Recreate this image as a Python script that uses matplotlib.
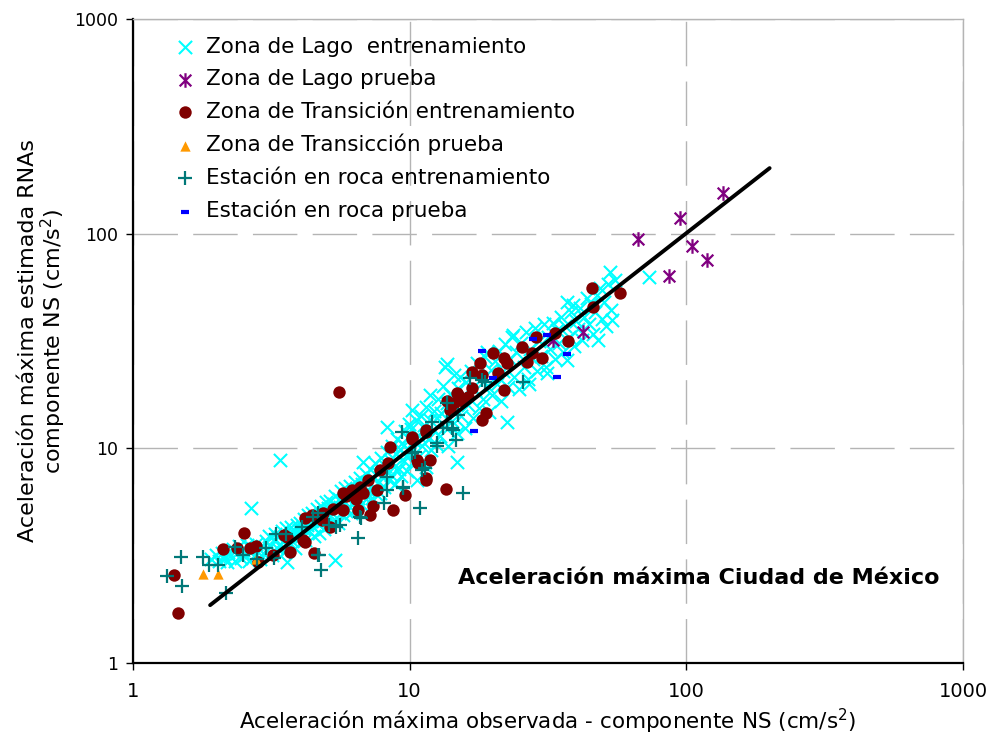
import matplotlib
matplotlib.use("Agg")
import matplotlib.pyplot as plt
from matplotlib.path import Path
from matplotlib.ticker import FixedLocator, NullLocator

plt.rcParams['font.family'] = ['DejaVu Sans']
plt.rcParams['mathtext.default'] = 'regular'

# ---------------- data ----------------
lago_ent = [
    (1.92,3.05),(2.0,3.2),(2.05,3.0),(2.1,3.25),(2.15,3.1),(2.2,3.3),(2.18,2.95),
    (2.25,3.15),(2.3,3.4),(2.33,3.0),(2.38,3.25),(2.42,3.5),(2.46,3.1),(2.5,3.35),(2.55,3.2),
    (2.58,3.55),(2.62,3.0),(2.66,3.3),(2.7,3.45),(2.74,3.15),(2.78,3.6),(2.83,3.3),(2.87,3.05),
    (2.92,3.5),(2.96,3.25),(2.67,5.27),(3.4,8.8),(3.6,2.95),(5.37,3.02),
    (3.02,3.7),(3.06,3.35),(3.1,3.9),(3.14,3.5),(3.18,3.2),(3.22,3.75),(3.27,4.0),(3.31,3.45),
    (3.35,3.85),(3.4,3.6),(3.45,4.1),(3.5,3.3),(3.55,3.8),(3.58,4.25),(3.63,3.55),(3.68,3.95),
    (3.72,4.3),(3.77,3.7),(3.82,4.05),(3.86,3.45),(3.9,4.4),(3.95,3.85),(3.99,4.15),
    (4.03,4.5),(4.07,3.9),(4.12,4.25),(4.16,4.7),(4.2,3.75),(4.25,4.4),(4.3,4.9),(4.34,4.1),
    (4.38,4.6),(4.43,5.0),(4.48,4.3),(4.52,3.9),(4.57,4.75),(4.61,5.2),(4.66,4.45),(4.7,4.05),
    (4.75,4.9),(4.8,5.4),(4.85,4.6),(4.9,4.2),(4.95,5.1),(4.98,5.6),
    (5.03,4.8),(5.08,5.3),(5.12,4.4),(5.17,5.7),(5.22,5.0),(5.27,4.6),(5.32,5.5),(5.38,6.0),
    (5.44,5.2),(5.5,4.5),(5.55,5.8),(5.6,5.35),(5.66,6.3),(5.72,4.9),(5.78,5.6),(5.84,6.5),
    (5.9,5.1),(5.95,5.9),
    (6.02,5.4),(6.08,6.7),(6.14,5.0),(6.2,6.1),(6.27,5.6),(6.33,7.0),(6.4,5.3),(6.46,6.4),
    (6.52,5.9),(6.6,7.3),(6.66,5.5),(6.73,6.8),(6.8,8.6),(6.86,6.2),(6.93,7.6),(6.98,5.8),
    (7.05,6.9),(7.12,6.3),(7.2,8.0),(7.28,5.9),(7.35,7.3),(7.42,6.6),(7.5,8.5),(7.58,6.1),
    (7.66,7.7),(7.74,7.0),(7.8,6.2),(7.88,9.0),(7.96,7.4),(8.05,6.6),(8.13,8.3),(8.22,7.8),
    (8.3,12.6),(8.3,9.6),(8.4,7.1),(8.48,8.8),
    (8.58,7.5),(8.66,10.2),(8.75,8.2),(8.84,6.8),(8.93,9.4),(9.02,11.0),(9.12,8.0),(9.2,9.9),
    (9.3,7.4),(9.4,10.6),(9.5,8.7),(9.6,12.0),(9.7,9.2),(9.8,7.8),(9.9,11.2),(9.97,13.0),
    (10.05,9.6),(10.15,12.3),(10.2,15.1),(10.3,8.6),(10.4,10.8),(10.5,13.5),(10.6,7.1),
    (10.7,11.5),(10.85,9.2),(11.0,14.2),(11.1,10.2),(11.25,12.8),(11.4,8.6),(11.5,15.5),
    (11.5,8.2),(11.65,11.0),(11.8,17.7),(11.8,13.6),(11.95,9.8),
    (12.1,12.2),(12.25,15.0),(12.4,10.5),(12.55,13.8),(12.7,17.0),(12.85,11.4),(13.0,14.6),
    (13.2,19.5),(13.4,23.9),(13.6,24.6),(13.4,12.6),(13.6,16.2),(13.8,10.2),(14.0,18.0),
    (14.2,13.4),(14.5,21.9),(14.5,15.6),(14.8,8.6),(14.8,11.8),(15.0,19.0),
    (15.2,21.6),(15.3,14.2),(15.5,17.6),(15.8,12.4),(16.0,20.4),(16.3,16.0),(16.6,23.0),
    (16.9,13.8),(17.2,18.6),(17.5,25.0),(17.8,15.4),(18.1,21.0),(18.4,17.0),(18.7,26.5),
    (19.0,28.0),(19.0,19.6),(19.3,14.8),(19.6,23.2),(19.9,17.8),
    (20.3,25.5),(20.6,20.0),(21.0,28.5),(21.4,16.6),(21.8,23.0),(22.2,30.5),(22.5,13.2),
    (22.6,19.4),(23.0,26.0),(23.4,33.0),(23.6,33.8),(23.8,21.6),(24.3,28.0),(24.8,18.8),
    (25.3,31.0),(25.8,24.0),(26.3,35.0),(26.8,21.0),(27.0,20.0),(27.3,29.0),(27.8,26.0),
    (28.3,36.5),(28.8,23.0),(29.4,31.5),(29.9,27.0),
    (30.5,38.0),(31.0,24.0),(31.3,22.5),(31.6,33.0),(32.2,29.0),(32.9,38.4),(33.5,26.0),
    (34.0,35.5),(34.6,31.0),(35.2,41.0),(35.8,28.0),(36.4,37.0),(37.0,48.0),(37.0,25.8),
    (37.6,33.0),(38.3,43.0),(38.8,46.5),(39.2,30.0),(39.8,39.0),
    (40.5,36.0),(41.2,45.0),(42.0,32.0),(42.8,41.0),(43.6,50.0),(44.4,38.0),(45.2,47.0),
    (46.0,34.0),(46.8,43.0),(47.6,52.0),(48.0,31.9),(48.6,56.0),(49.4,40.0),(50.3,48.0),
    (51.2,37.0),(52.0,58.0),(53.0,66.0),(53.5,44.0),(54.0,39.5),(55.0,61.0),(73.3,62.8),
]

lago_prueba = [(135.6,154.6),(94.8,118.3),(66.8,94.4),(104.8,87.5),(118.7,75.4),
               (86.5,63.5),(42.3,34.8),(32.9,31.9)]

trans_ent = [
    (1.45,1.71),(1.41,2.57),(2.52,4.03),(2.11,3.40),(2.38,3.43),(2.65,3.43),(2.78,3.5),
    (2.83,2.95),(3.2,3.18),(3.51,3.95),(3.69,3.29),(4.18,3.66),(4.18,4.74),(4.5,3.25),
    (4.44,4.89),(4.82,4.64),(5.55,18.3),(3.6,3.86),(4.1,3.74),(4.86,5.0),(5.15,4.3),
    (5.73,6.19),(6.2,6.4),(6.6,6.6),(7.07,7.1),(7.6,6.4),(5.73,5.16),(6.5,5.16),(7.2,4.9),
    (8.7,5.16),(9.6,6.06),(7.8,7.9),(8.37,8.5),(8.5,10.1),(10.2,11.1),(10.6,8.8),(11.8,8.8),
    (11.5,7.1),(13.5,6.46),(11.5,12.2),(13.6,16.7),(14.5,16.2),(14.8,18.1),(10.2,11.3),
    (10.7,8.5),(11.5,7.3),(11.5,11.9),(14.0,15.1),(14.9,17.7),(15.6,16.7),(16.2,17.3),
    (16.8,22.7),(17.9,24.9),(18.3,21.9),(16.8,19.1),(18.9,14.6),(18.3,13.6),(20.0,27.8),
    (22.0,26.3),(22.5,24.9),(22.0,18.7),(20.8,22.4),(25.4,29.7),(26.5,25.2),(28.7,33.0),
    (30.2,26.3),(27.6,27.8),(33.4,34.4),(37.3,31.6),(45.5,55.6),(45.9,45.7),(57.5,52.9),
    (5.9,6.0),(6.4,5.8),(6.8,6.2),(5.3,5.2),(7.4,5.4),
]

trans_prueba = [(1.79,2.60),(2.03,2.60),(2.78,3.05)]

roca_ent = [
    (1.33,2.54),(1.49,3.12),(1.50,2.28),(1.79,3.12),(1.88,2.86),(2.03,2.86),(2.17,2.12),
    (2.34,3.47),(2.50,3.18),(2.81,3.05),(3.02,3.43),(3.29,3.99),(3.57,3.99),(3.23,3.08),
    (4.08,4.30),(4.47,4.79),(4.66,5.0),(4.66,3.18),(4.78,2.71),(6.5,3.82),(8.07,5.56),
    (8.3,6.4),(9.46,6.53),(10.9,5.27),(6.67,4.74),(5.11,4.39),(5.4,4.3),(15.6,6.19),
    (9.38,11.9),(10.45,9.6),(8.3,7.35),(9.46,6.6),(6.6,4.79),(5.6,4.39),(4.7,3.2),
    (11.4,8.1),(12.6,10.6),(12.0,13.3),(13.6,13.2),(14.3,12.2),(14.7,10.9),(13.7,16.2),
    (13.2,12.5),(14.2,12.5),(14.9,14.3),(12.6,10.3),(16.5,21.3),(18.2,20.8),(25.6,20.4),
    (10.2,9.5),(11.1,7.9),(18.7,20.4),
]

roca_prueba = [(18.2,28.4),(27.9,32.3),(31.3,33.7),(20.0,21.3),(37.0,27.5),(34.1,21.5),(17.1,12.0)]

fit_x = [1.9, 200]
fit_y = [1.86, 202]

ticks = [1, 10, 100, 1000]
tick_labels = ['1', '10', '100', '1000']

labels = ['Zona de Lago  entrenamiento', 'Zona de Lago prueba',
          'Zona de Transición entrenamiento', 'Zona de Transicción prueba',
          'Estación en roca entrenamiento', 'Estación en roca prueba']

# ---------------- figure ----------------
fig = plt.figure(figsize=(9.92, 7.35), dpi=100)
W, H = 992, 735
ax = fig.add_axes([133 / W, 1 - 663 / H, (963 - 133) / W, (663 - 19) / H])
ax.set_xscale('log')
ax.set_yscale('log')
ax.set_xlim(1, 1000)
ax.set_ylim(1, 1000)

def xy(pts):
    return [p[0] for p in pts], [p[1] for p in pts]

ast = Path([(0, -1), (0, 1), (-0.8, -0.8), (0.8, 0.8), (-0.8, 0.8), (0.8, -0.8)],
           [Path.MOVETO, Path.LINETO, Path.MOVETO, Path.LINETO, Path.MOVETO, Path.LINETO])

h = []
x, y = xy(lago_ent)
h.append(ax.scatter(x, y, marker='x', s=90, linewidths=1.5, color='#00FFFF', zorder=3))
x, y = xy(lago_prueba)
h.append(ax.scatter(x, y, marker=ast, s=110, linewidths=1.6, color='#800080', zorder=4))
x, y = xy(trans_ent)
h.append(ax.scatter(x, y, marker='o', s=80, linewidths=0, color='#800000', zorder=5))
x, y = xy(trans_prueba)
h.append(ax.scatter(x, y, marker='^', s=55, linewidths=0, color='#FF9900', zorder=6))
x, y = xy(roca_ent)
h.append(ax.scatter(x, y, marker='+', s=100, linewidths=1.6, color='#007878', zorder=7))
x, y = xy(roca_prueba)
h.append(ax.scatter(x, y, marker='_', s=40, linewidths=3.0, color='#0000FF', zorder=8))

ax.plot(fit_x, fit_y, color='black', lw=2.8, zorder=9, solid_capstyle='round')

# axes styling
ax.xaxis.set_major_locator(FixedLocator(ticks))
ax.yaxis.set_major_locator(FixedLocator(ticks))
ax.xaxis.set_minor_locator(NullLocator())
ax.yaxis.set_minor_locator(NullLocator())
ax.set_xticklabels(tick_labels)
ax.set_yticklabels(tick_labels)
ax.tick_params(axis='both', which='major', direction='out', length=5, width=1,
               colors='black')
ax.tick_params(axis='x', labelsize=14, pad=9)
ax.tick_params(axis='y', labelsize=12.5, pad=6)
ax.grid(True, which='major', color='#b4b4b4', lw=1.0, ls=(0, (32, 11)), zorder=0)
for s in ['left', 'bottom']:
    ax.spines[s].set_color('black')
    ax.spines[s].set_linewidth(1.6)
for s in ['top', 'right']:
    ax.spines[s].set_color('#b4b4b4')
    ax.spines[s].set_linewidth(1.0)

ax.set_xlabel('Aceleración máxima observada - componente NS (cm/s$^{2}$)', fontsize=15.5,
              labelpad=4)
ax.set_ylabel('Aceleración máxima estimada RNAs\ncomponente NS (cm/s$^{2}$)', fontsize=16,
              labelpad=4, linespacing=1.05)

ax.text(0.3916, 0.132, 'Aceleración máxima Ciudad de México', transform=ax.transAxes,
        fontsize=16, fontweight='bold', ha='left', va='center', zorder=10)

ax.legend(h, labels, loc='upper left', bbox_to_anchor=(0.0506, 0.972), frameon=False,
          fontsize=15.5, handlelength=0.92, handletextpad=0.5, borderpad=0, borderaxespad=0,
          labelspacing=0.57, scatterpoints=1)

fig.savefig('out.png', dpi=100)
